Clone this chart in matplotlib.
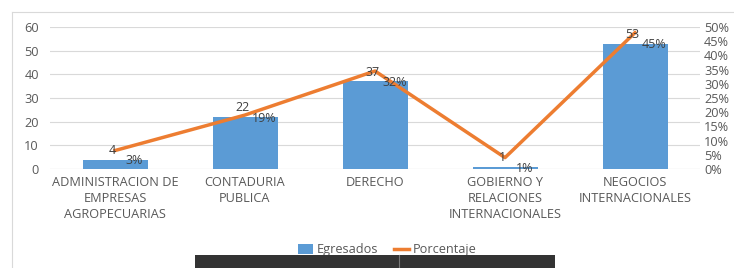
########################################################################################################################
# Egresados por programa - barras + linea de porcentaje
########################################################################################################################
import numpy as np
import matplotlib.pyplot as plt
from matplotlib.lines import Line2D
from matplotlib.patches import Rectangle, Patch
########################################################################################################################
# Datos
programas = ["ADMINISTRACION DE\nEMPRESAS\nAGROPECUARIAS", "CONTADURIA\nPUBLICA", "DERECHO",
             "GOBIERNO Y\nRELACIONES\nINTERNACIONALES", "NEGOCIOS\nINTERNACIONALES"]
egresados = [4, 22, 37, 1, 53]
porcentaje = [0.065, 0.19, 0.345, 0.04, 0.48]   # posicion de la linea
etiquetas_pct = ["3%", "19%", "32%", "1%", "45%"]
ticks_izq = [0, 10, 20, 30, 40, 50, 60]
ticks_der = [0, 0.05, 0.10, 0.15, 0.20, 0.25, 0.30, 0.35, 0.40, 0.45, 0.50]
########################################################################################################################
azul = "#5B9BD5"
naranja = "#ED7D31"
gris = "#595959"
plt.rcParams['font.family'] = ['Open Sans', 'DejaVu Sans']

fig = plt.figure(figsize=(7.34, 2.68), dpi=100)
ax = fig.add_axes([50/734, 1 - 169/268, 650/734, 142/268])
x = np.arange(len(programas))

ax.bar(x, egresados, width=0.5, color=azul, zorder=2)
ax.set_xlim(-0.5, len(programas) - 0.5)
ax.set_ylim(0, 60)
ax.set_yticks(ticks_izq)
ax.set_xticks(x)
ax.set_xticklabels(programas, fontsize=9.2, color=gris, linespacing=1.3)
ax.tick_params(axis='y', labelsize=9.2, colors=gris, length=0, pad=8)
ax.tick_params(axis='x', length=0, pad=5)
ax.grid(axis='y', color="#D9D9D9", linewidth=0.8, zorder=0)
for s in ax.spines.values():
    s.set_visible(False)
ax.axhline(0, color="#D9D9D9", linewidth=0.8, zorder=1)

ax2 = ax.twinx()
ax2.plot(x, porcentaje, color=naranja, linewidth=2.5, zorder=3)
ax2.set_ylim(0, 0.5)
ax2.set_yticks(ticks_der)
ax2.set_yticklabels([f"{int(round(t*100))}%" for t in ticks_der])
ax2.tick_params(axis='y', labelsize=9.2, colors=gris, length=0, pad=3)
for s in ax2.spines.values():
    s.set_visible(False)

# Etiquetas de datos
for i, v in enumerate(egresados):
    ax2.annotate(str(v), (x[i], v / 120), xytext=(-2, 2), textcoords='offset points',
                 ha='center', va='bottom', fontsize=9, color="#404040", zorder=4)
    ax2.annotate(etiquetas_pct[i], (x[i], v / 120), xytext=(14, -1), textcoords='offset points',
                 ha='center', va='center', fontsize=9, color="#404040", zorder=4)

# Leyenda
manejadores = [Patch(facecolor=azul, label="Egresados"),
               Line2D([0], [0], color=naranja, linewidth=2.5, label="Porcentaje")]
fig.legend(handles=manejadores, loc='center', bbox_to_anchor=(387/734, 1 - 250/268), ncol=2,
           frameon=False, fontsize=9.2, labelcolor=gris, handlelength=1.2, handleheight=0.8,
           columnspacing=1.2, handletextpad=0.3)

# Marco exterior
fig.add_artist(Line2D([12/734, 1], [1 - 12/268, 1 - 12/268], color="#D9D9D9", linewidth=0.8))
fig.add_artist(Line2D([12/734, 12/734], [0, 1 - 12/268], color="#D9D9D9", linewidth=0.8))

# Barra oscura superpuesta en la captura
fig.add_artist(Rectangle((195/734, 0), 360/734, 13/268, facecolor="#333333", edgecolor="none", zorder=10))
fig.add_artist(Line2D([399/734, 399/734], [0, 13/268], color="#777777", linewidth=0.8, zorder=11))

fig.savefig("out.png", dpi=100)
########################################################################################################################
